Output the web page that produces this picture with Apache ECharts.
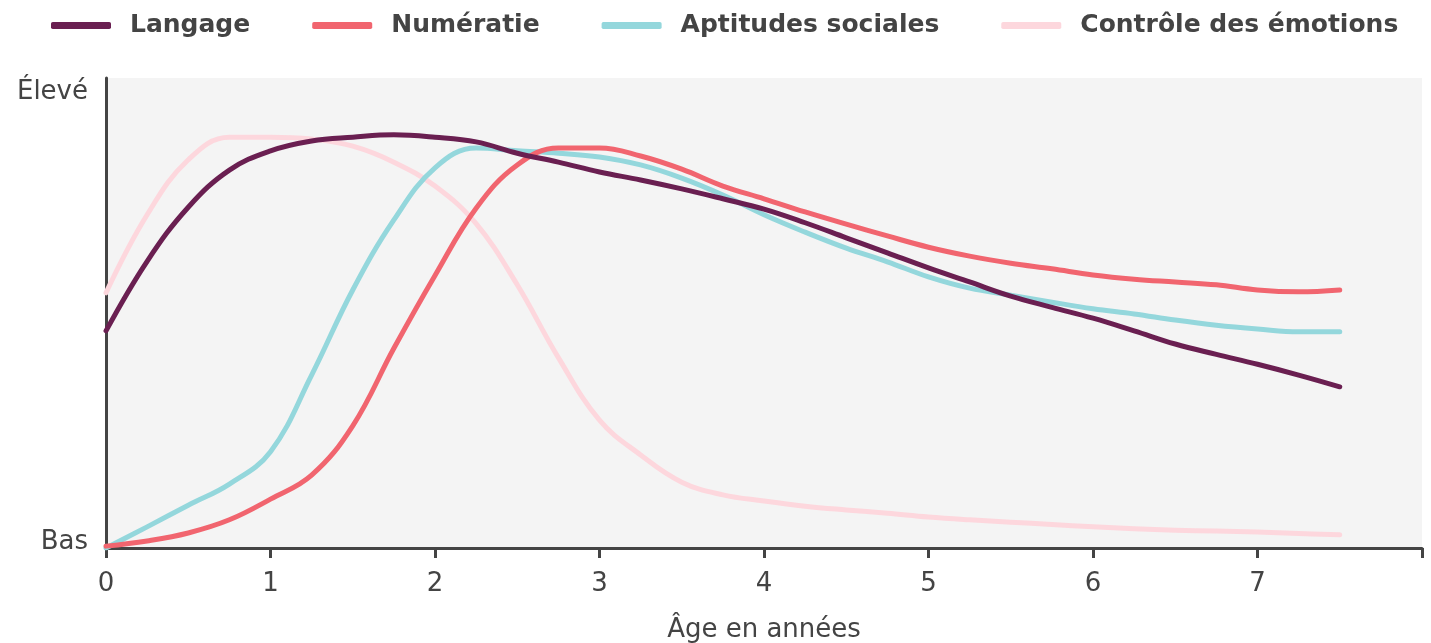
<!DOCTYPE html>
<html>
<head>
<meta charset="utf-8">
<script src="https://cdn.jsdelivr.net/npm/echarts@6/dist/echarts.min.js"></script>
<style>
html,body{margin:0;padding:0;background:#fff;}
#chart{width:1431px;height:643px;}
</style>
</head>
<body>
<div id="chart"></div>
<script>
// Ages (years) at which values were read
const ages = [0,0.25,0.5,0.75,1,1.25,1.5,1.75,2,2.25,2.5,2.75,3,3.25,3.5,3.75,4,4.25,4.5,4.75,5,5.25,5.5,5.75,6,6.25,6.5,6.75,7,7.25,7.5];
const seriesNames = ['Langage','Numératie','Aptitudes sociales','Contrôle des émotions'];
const langage = [46.2,61,72.5,80.4,84.5,86.6,87.4,87.9,87.4,86.4,84,82.1,80,78.3,76.4,74.3,72.1,69.2,66,62.8,59.6,56.6,53.6,51.2,48.9,46.2,43.4,41.2,39.1,36.8,34.3];
const numeratie = [0.4,1.5,3.2,6,10.4,15.5,26,42.5,58,72.3,81.5,85.1,85.1,83.4,80.6,77,74.3,71.5,68.9,66.4,64,62.1,60.6,59.4,58.1,57.2,56.6,56,54.9,54.5,54.9];
const aptitudes = [0,4.5,9.1,13.6,20.5,36.8,54.9,69.8,80.9,85.1,84.5,84,83.2,81.5,78.7,75.1,70.9,67.2,63.8,60.9,57.7,55.3,53.8,52.3,50.9,49.8,48.5,47.4,46.6,46,46];
const controle = [54.3,70.9,82.6,87.4,87.4,87,85.5,82.1,77,69,56,40.5,27.2,19.8,14,11.3,10,8.9,8.1,7.4,6.6,6,5.5,5,4.5,4.1,3.8,3.6,3.4,3.1,2.8];
const xTicks = ['0','1','2','3','4','5','6','7'];
const yLabels = ['Bas','Élevé'];

const colors = ['#6a1f51','#f1656f','#94d7dc','#fdd7dd'];
const valueSets = [langage, numeratie, aptitudes, controle];
const zs = [5,4,3,2];

const chart = echarts.init(document.getElementById('chart'));
const textColor = '#444444';
const font = 'DejaVu Sans';

chart.setOption({
  animation: false,
  legend: {
    top: 8,
    left: 46,
    itemWidth: 60,
    itemHeight: 7,
    itemGap: 62,
    icon: 'roundRect',
    textStyle: {fontFamily: font, fontWeight: 'bold', fontSize: 25, color: textColor, padding: [0,0,0,14]},
    data: seriesNames
  },
  grid: {
    left: 106, right: 9, top: 78, bottom: 95,
    outerBoundsMode: 'none',
    containLabel: false,
    show: true, backgroundColor: '#f4f4f4', borderWidth: 0
  },
  xAxis: {
    type: 'value', min: 0, max: 8, interval: 1,
    name: 'Âge en années', nameLocation: 'middle', nameGap: 69,
    nameTextStyle: {fontFamily: font, fontSize: 26, color: textColor},
    axisLine: {show: true, lineStyle: {color: '#444', width: 3}},
    axisTick: {show: true, length: 10, lineStyle: {color: '#444', width: 3}},
    splitLine: {show: false},
    axisLabel: {
      fontFamily: font, fontSize: 26, color: textColor, margin: 23,
      formatter: v => (v < xTicks.length ? xTicks[v] : '')
    }
  },
  yAxis: {
    type: 'value', min: 0, max: 100, interval: 100,
    axisLine: {show: true, lineStyle: {color: '#444', width: 3}},
    axisTick: {show: false},
    splitLine: {show: false},
    axisLabel: {
      fontFamily: font, fontSize: 26, color: textColor, margin: 18,
      formatter: v => (v === 0 ? '{lo|' + yLabels[0] + '}' : '{hi|' + yLabels[1] + '}'),
      rich: {
        lo: {fontFamily: font, fontSize: 26, color: textColor, padding: [0,0,12,0]},
        hi: {fontFamily: font, fontSize: 26, color: textColor, padding: [28,0,0,0]}
      }
    }
  },
  series: seriesNames.map((n, i) => ({
    name: n,
    type: 'line',
    z: zs[i],
    smooth: 0.4,
    showSymbol: false,
    symbol: 'none',
    color: colors[i],
    lineStyle: {width: 5, color: colors[i], cap: 'round', join: 'round'},
    data: ages.map((a, k) => [a, valueSets[i][k]])
  }))
});
</script>
</body>
</html>
